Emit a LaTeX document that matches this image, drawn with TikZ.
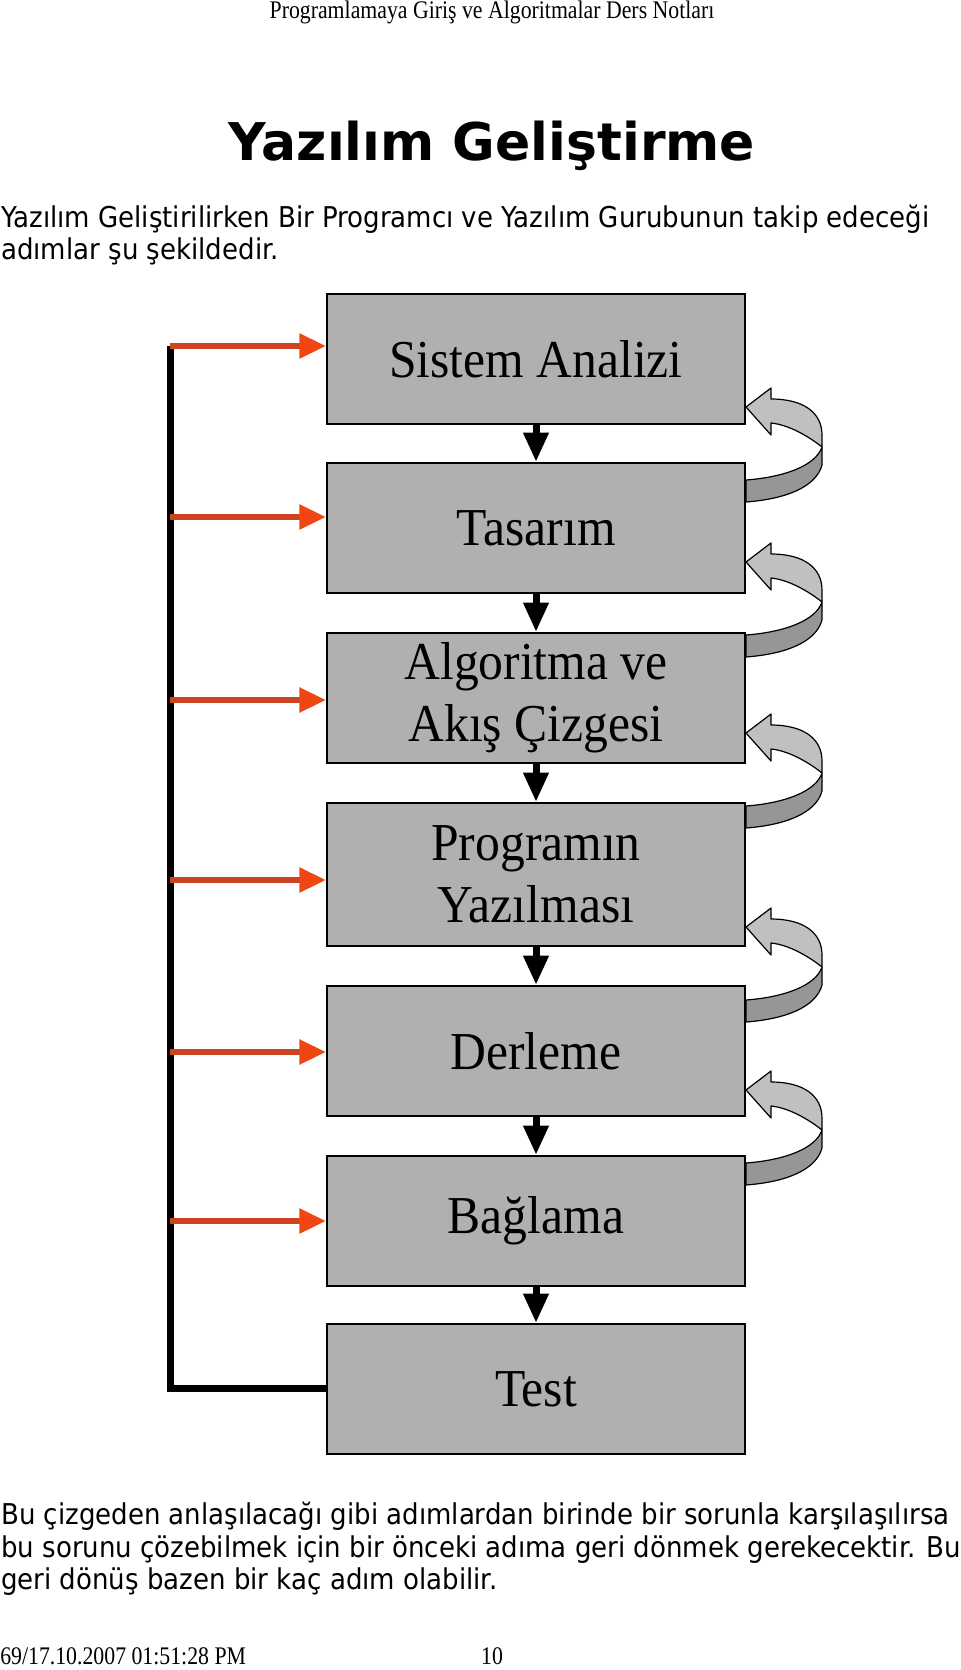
\documentclass[tikz,border=0pt]{standalone}
\usepackage{fontspec}
\setmainfont{DejaVu Sans}
\newfontfamily\parafont{DejaVu Sans}[FakeStretch=0.908]
\newfontfamily\hdrfont{Liberation Serif}[FakeStretch=0.86]
\newfontfamily\boxfont{Liberation Serif}[FakeStretch=0.93]
\usetikzlibrary{arrows.meta}
\definecolor{boxgray}{RGB}{176,176,176}
\definecolor{lightband}{RGB}{192,192,192}
\definecolor{darkband}{RGB}{150,150,150}
\definecolor{redshaft}{RGB}{204,68,34}
\definecolor{redhead}{RGB}{240,70,20}
\tikzset{curl/.pic={
  \filldraw[fill=lightband, curlpiece] (0,0) -- (25,-19) -- (25,-8) .. controls (58,-8) and (76,6) .. (76,28) -- (76,40) .. controls (66,32) and (45,18) .. (25,16) -- (25,28) -- cycle;
  \filldraw[fill=darkband, curlpiece] (76,40) .. controls (70,58) and (40,70) .. (0,73) -- (0,95) .. controls (40,92) and (70,80) .. (76,58) -- cycle;
}}
\begin{document}
\begin{tikzpicture}[x=0.75pt,y=-0.75pt,
  stepbox/.style={draw=black, line width=1.6pt, fill=boxgray, minimum width=313.5pt, minimum height=97.5pt, inner sep=0pt, align=center, font=\boxfont\fontsize{40}{46.5}\selectfont},
  flow/.style={line width=5.25pt, -{Triangle[length=22pt,width=18pt]}},
  redarrow/.style={draw=redshaft, line width=4.5pt, -{Triangle[length=20pt,width=18pt,color=redhead]}},
  fbline/.style={line width=5.25pt},
  para/.style={anchor=base west, inner sep=0pt, font=\parafont\fontsize{21.5}{24}\selectfont},
  hdr/.style={inner sep=0pt, font=\hdrfont\fontsize{19}{22}\selectfont},
  curlpiece/.style={draw=black, line width=0.9pt, line join=round},
]
\useasboundingbox (0,0) rectangle (960,1670);

% header and texts
\node[hdr, anchor=base] (hdr) at (492,19) {Programlamaya Giriş ve Algoritmalar Ders Notları};
\node[anchor=base, inner sep=0pt, font=\bfseries\fontsize{39}{44}\selectfont] (title) at (492,160) {Yazılım Geliştirme};
\node[para] (p1) at (1,227) {Yazılım Geliştirilirken Bir Programcı ve Yazılım Gurubunun takip edeceği};
\node[para] (p2) at (1,259) {adımlar şu şekildedir.};

% curved return arrows
\pic at (746,407) {curl};
\pic at (746,562) {curl};
\pic at (746,733) {curl};
\pic at (746,927) {curl};
\pic at (746,1090) {curl};

% boxes
\node[stepbox] (b1) at (536,359) {Sistem Analizi};
\node[stepbox] (b2) at (536,528) {Tasarım};
\node[stepbox] (b3) at (536,698) {Algoritma ve\\Akış Çizgesi};
\node[stepbox, minimum height=107.25pt] (b4) at (536,874.5) {Programın\\Yazılması};
\node[stepbox] (b5) at (536,1051) {Derleme};
\node[stepbox] (b6) at (536,1221) {Bağlama};
\node[stepbox] (b7) at (536,1389) {Test};

% flow arrows
\draw[flow] (b1.south) -- (b2.north);
\draw[flow] (b2.south) -- (b3.north);
\draw[flow] (b3.south) -- (b4.north);
\draw[flow] (b4.south) -- (b5.north);
\draw[flow] (b5.south) -- (b6.north);
\draw[flow] (b6.south) -- (b7.north);

% feedback line
\coordinate (r1) at (170,346);
\coordinate (r2) at (170,517);
\coordinate (r3) at (170,700);
\coordinate (r4) at (170,880);
\coordinate (r5) at (170,1052);
\coordinate (r6) at (170,1221);
\coordinate (c7) at (170,1388);
\draw[fbline] (c7 -| b7.west) -- (c7) -- (r1);
\draw[redarrow] (r1) -- (r1 -| b1.west);
\draw[redarrow] (r2) -- (r2 -| b2.west);
\draw[redarrow] (r3) -- (r3 -| b3.west);
\draw[redarrow] (r4) -- (r4 -| b4.west);
\draw[redarrow] (r5) -- (r5 -| b5.west);
\draw[redarrow] (r6) -- (r6 -| b6.west);

% bottom text
\node[para] (q1) at (1,1524) {Bu çizgeden anlaşılacağı gibi adımlardan birinde bir sorunla karşılaşılırsa};
\node[para] (q2) at (1,1557) {bu sorunu çözebilmek için bir önceki adıma geri dönmek gerekecektir. Bu};
\node[para] (q3) at (1,1589) {geri dönüş bazen bir kaç adım olabilir.};
\node[hdr, anchor=base west] (f1) at (0,1664) {69/17.10.2007 01:51:28 PM};
\node[hdr, anchor=base] (f2) at (492,1664) {10};
\end{tikzpicture}
\end{document}
